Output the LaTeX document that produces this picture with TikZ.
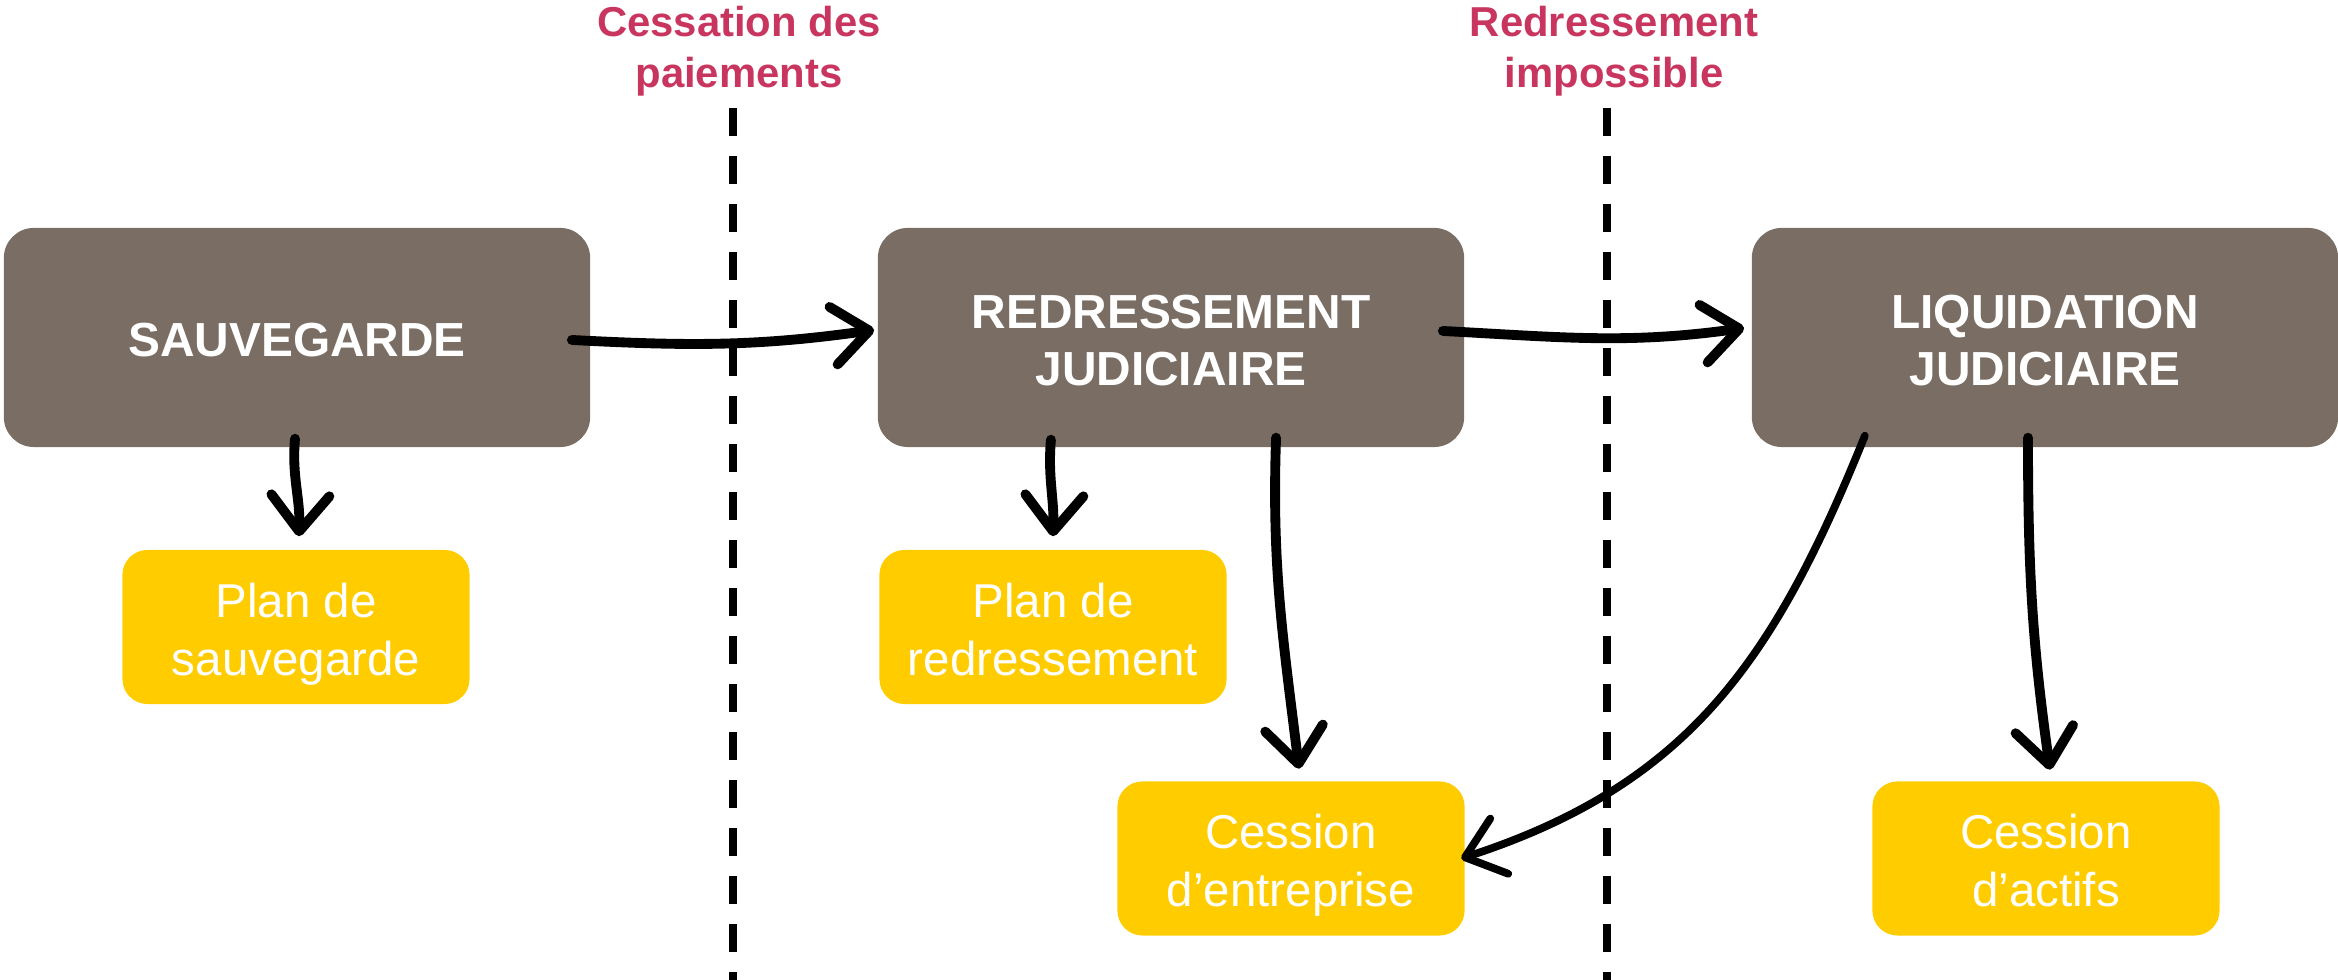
\documentclass[tikz,border=0pt]{standalone}
\usepackage{fontspec}
\setmainfont{Liberation Sans}
\usepackage{tikz}
\usetikzlibrary{arrows.meta, positioning}

\definecolor{procbrown}{HTML}{7A6E64}
\definecolor{planyellow}{HTML}{FFCC00}
\definecolor{eventpink}{HTML}{C8365F}

\begin{document}
\begin{tikzpicture}[x=0.01cm, y=0.01cm,
  proc/.style={fill=procbrown, rounded corners=0.3cm, minimum width=5.86cm, minimum height=2.19cm,
    align=center, text=white, text height=0.95cm, text depth=0pt, font=\fontsize{13.6}{16.2}\selectfont\bfseries},
  plan/.style={fill=planyellow, rounded corners=0.25cm, minimum width=3.47cm, minimum height=1.54cm,
    align=center, text=white, text height=0.96cm, text depth=0pt, font=\fontsize{13.5}{16.4}\selectfont},
  event/.style={text=eventpink, align=center, inner sep=0pt, font=\fontsize{11.9}{14.7}\selectfont\bfseries},
  border/.style={line width=2pt, dash pattern=on 0.28cm off 0.2cm},
  flow/.style={line width=2.8pt, line cap=round, line join=round,
    -{Straight Barb[length=0.36cm, width=0.58cm, round]}}]
  \useasboundingbox (0,0) rectangle (2338,980);

  % Thresholds between procedures
  \draw[border] (733,872) -- (733,0);
  \draw[border] (1607,872) -- (1607,0);
  \node[event, anchor=north] (cessation) at (739,975) {Cessation des\\paiements};
  \node[event, anchor=north] (impossible) at (1614,975) {Redressement\\impossible};

  % Procedures
  \node[proc, text height=0.39cm] (sauv) at (297,642.5) {SAUVEGARDE};
  \node[proc] (redr) at (1171,642.5) {REDRESSEMENT\\JUDICIAIRE};
  \node[proc] (liqu) at (2045,642.5) {LIQUIDATION\\JUDICIAIRE};

  % Outcomes
  \node[plan] (plansauv) at (296,353) {Plan de\\sauvegarde};
  \node[plan] (planredr) at (1053,353) {Plan de\\redressement};
  \node[plan] (cessent) at (1291,121.5) {Cession\\d’entreprise};
  \node[plan] (cessact) at (2046,121.5) {Cession\\d’actifs};

  % Transitions
  \draw[flow] ([xshift=-0.19cm, yshift=-0.025cm]sauv.east) to[out=-3, in=188] ([xshift=-0.03cm, yshift=0.075cm]redr.west);
  \draw[flow] ([xshift=-0.22cm, yshift=0.065cm]redr.east) to[out=-3, in=188] ([xshift=-0.07cm, yshift=0.095cm]liqu.west);

  % Outcome arrows
  \draw[flow] ([xshift=-0.02cm, yshift=0.09cm]sauv.south) to[out=-95, in=88] ([xshift=0.03cm, yshift=0.13cm]plansauv.north);
  \draw[flow] ([xshift=-1.2cm, yshift=0.08cm]redr.south) to[out=-95, in=88] ([xshift=0.0cm, yshift=0.13cm]planredr.north);
  \draw[flow] ([xshift=1.05cm, yshift=0.1cm]redr.south) to[out=-92, in=97] ([xshift=0.08cm, yshift=0.12cm]cessent.north);
  \draw[flow, line width=2.2pt] ([xshift=-1.8cm, yshift=0.12cm]liqu.south) to[out=-112, in=18, looseness=1.05] ([xshift=-0.04cm]cessent.east);
  \draw[flow] ([xshift=-0.17cm, yshift=0.1cm]liqu.south) to[out=-90, in=98] ([xshift=0.04cm, yshift=0.11cm]cessact.north);
\end{tikzpicture}
\end{document}
